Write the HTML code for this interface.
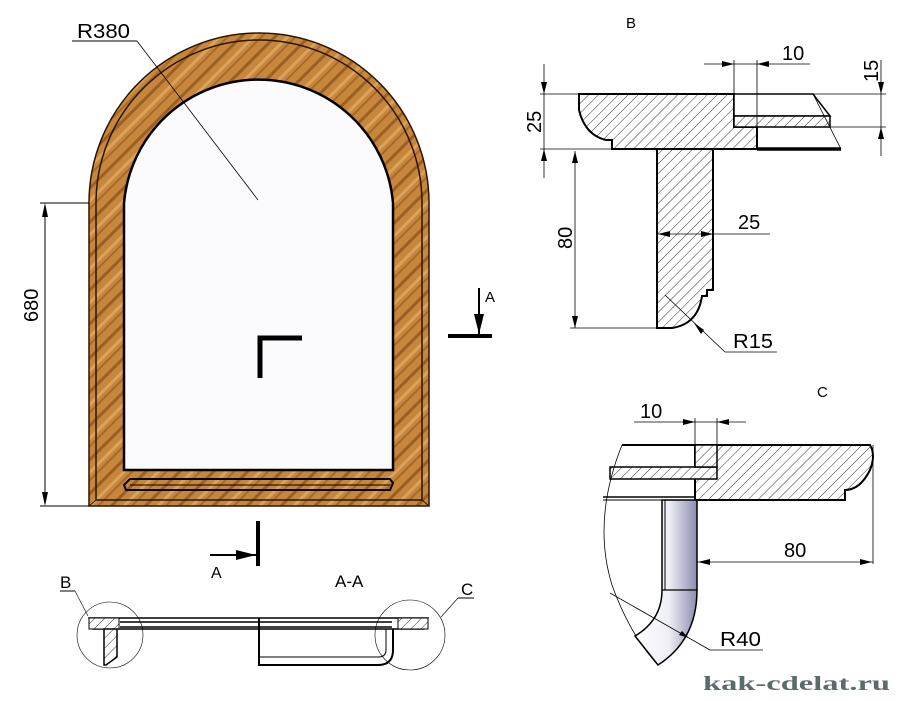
<!DOCTYPE html>
<html><head><meta charset="utf-8"><style>
html,body{margin:0;padding:0;background:#fff}
svg{display:block}
text{font-family:"Liberation Sans",sans-serif;fill:#000}
</style></head><body>
<svg width="903" height="701" viewBox="0 0 903 701" xmlns="http://www.w3.org/2000/svg">
<defs>
<pattern id="wood" width="24" height="24" patternUnits="userSpaceOnUse" patternTransform="rotate(-45)">
<rect width="24" height="24" fill="#c6863c"/>
<rect y="3" width="24" height="3" fill="#9a5f22"/>
<rect y="12" width="24" height="3" fill="#dba35a"/>
<rect y="18" width="24" height="2" fill="#a86a28"/>
</pattern>
<pattern id="hatch" width="7" height="7" patternUnits="userSpaceOnUse" patternTransform="rotate(45)">
<rect width="7" height="7" fill="#fff"/>
<line x1="0" y1="0" x2="0" y2="7" stroke="#000" stroke-width="0.8"/>
</pattern>
<linearGradient id="tube" x1="0" x2="1">
<stop offset="0" stop-color="#fff"/><stop offset="0.55" stop-color="#eeeef6"/><stop offset="1" stop-color="#8c8cae"/>
</linearGradient>
</defs>

<!-- Frame -->
<path d="M89,506 L89,203 A170,170 0 0 1 429,203 L429,506 Z" fill="url(#wood)" stroke="#2a1505" stroke-width="1.5"/>
<path d="M96,500 L96,203 A163,163 0 0 1 422,203 L422,500 Z" fill="none" stroke="#2a1505" stroke-width="1.5"/>
<path d="M124,470 L124,203 A135,135 0 0 1 393,203 L393,470 Z" fill="#fbfbfd" stroke="#000" stroke-width="2.5"/>
<path d="M130,479 L390,479 L393,483 L390,490 L126,490 L124,485 Z" fill="none" stroke="#000" stroke-width="2"/>
<line x1="130" y1="485" x2="390" y2="485" stroke="#000" stroke-width="1"/>
<line x1="89" y1="506" x2="96" y2="500" stroke="#2a1505"/><line x1="429" y1="506" x2="422" y2="500" stroke="#2a1505"/>

<!-- R380 -->
<text x="77" y="38" font-size="20" textLength="53" lengthAdjust="spacingAndGlyphs">R380</text>
<line x1="72" y1="41" x2="137" y2="41" stroke="#000" stroke-width="1"/>
<line x1="137" y1="41" x2="258" y2="200" stroke="#000" stroke-width="0.8"/>
<!-- 680 -->
<line x1="40" y1="203" x2="89" y2="203" stroke="#000"/><line x1="40" y1="506" x2="89" y2="506" stroke="#000"/>
<line x1="45" y1="210" x2="45" y2="500" stroke="#000"/>
<path d="M45,203 l-3,14 h6 Z M45,506 l-3,-14 h6 Z" fill="#000"/>
<text transform="translate(38,322) rotate(-90)" font-size="20">680</text>

<!-- corner mark and A arrows -->
<path d="M260,378 V338 H302" fill="none" stroke="#000" stroke-width="5"/>
<line x1="448" y1="336" x2="492" y2="336" stroke="#000" stroke-width="4"/>
<line x1="479" y1="288" x2="479" y2="334" stroke="#000" stroke-width="2"/>
<path d="M479,334 l-5,-20 h10 Z" fill="#000"/>
<text x="485" y="302" font-size="15">A</text>
<line x1="258" y1="521" x2="258" y2="566" stroke="#000" stroke-width="4"/>
<line x1="210" y1="555" x2="256" y2="555" stroke="#000" stroke-width="2"/>
<path d="M256,555 l-20,-5 v10 Z" fill="#000"/>
<text x="211" y="578" font-size="16">A</text>

<!-- A-A section -->
<text x="335" y="587" font-size="17">A-A</text>
<path d="M89,618 H428 L424,629 H93 Z" fill="#fff" stroke="#000" stroke-width="1.5"/>
<rect x="89" y="618" width="30" height="11" fill="url(#hatch)" stroke="#000"/>
<rect x="398" y="618" width="30" height="11" fill="url(#hatch)" stroke="#000"/>
<line x1="120" y1="622" x2="392" y2="622" stroke="#000" stroke-width="1.5"/>
<line x1="120" y1="627" x2="392" y2="627" stroke="#000" stroke-width="1.5"/>
<path d="M104,629 H117 V657 L106,665 H104 Z" fill="url(#hatch)" stroke="#000" stroke-width="1.5"/>
<path d="M259,618 V665 H378 Q393,665 393,650 V629" fill="none" stroke="#000" stroke-width="2"/>
<path d="M259,657 H378 Q386,657 386,650 V629" fill="none" stroke="#000" stroke-width="1"/>
<circle cx="110" cy="635" r="33" fill="none" stroke="#000" stroke-width="0.6"/>
<circle cx="410" cy="635" r="35" fill="none" stroke="#000" stroke-width="0.6"/>
<text x="60" y="588" font-size="17">B</text>
<line x1="60" y1="591" x2="75" y2="591" stroke="#000"/><line x1="75" y1="591" x2="88" y2="616" stroke="#000" stroke-width="0.6"/>
<text x="461" y="595" font-size="17">C</text>
<line x1="458" y1="598" x2="474" y2="598" stroke="#000"/><line x1="458" y1="598" x2="441" y2="617" stroke="#000" stroke-width="0.6"/>

<!-- Section B detail -->
<text x="626" y="28" font-size="15">B</text>
<path d="M579,94 H734 V127 H757 V149 H612 V140 H606 Q585,135 579,110 Z" fill="url(#hatch)" stroke="#000" stroke-width="2"/>
<path d="M734,94 H813 L830,116 H734 Z" fill="#fff" stroke="#000" stroke-width="1.5"/>
<rect x="734" y="116" width="96" height="11" fill="url(#hatch)" stroke="#000" stroke-width="1.5"/>
<path d="M813,94 L841,149" stroke="#000" stroke-width="0.8" fill="none"/>
<line x1="757" y1="149" x2="841" y2="149" stroke="#000" stroke-width="3.5"/>
<path d="M657,149 H713 V290 H707 V296 H702 Q698,324 672,328 H657 Z" fill="url(#hatch)" stroke="#000" stroke-width="2"/>
<!-- dims B -->
<line x1="540" y1="94" x2="579" y2="94" stroke="#000" stroke-width="0.8"/>
<line x1="540" y1="149" x2="612" y2="149" stroke="#000" stroke-width="0.8"/>
<line x1="544" y1="64" x2="544" y2="178" stroke="#000" stroke-width="0.8"/>
<path d="M544,94 l-3,-12 h6 Z M544,149 l-3,12 h6 Z" fill="#000"/>
<text transform="translate(541,133) rotate(-90)" font-size="20">25</text>
<line x1="575" y1="151" x2="575" y2="328" stroke="#000" stroke-width="0.8"/>
<path d="M575,151 l-3,12 h6 Z M575,328 l-3,-12 h6 Z" fill="#000"/>
<line x1="570" y1="328" x2="657" y2="328" stroke="#000" stroke-width="0.8"/>
<text transform="translate(572,249) rotate(-90)" font-size="20">80</text>
<line x1="734" y1="60" x2="734" y2="94" stroke="#000" stroke-width="0.8"/>
<line x1="757" y1="60" x2="757" y2="127" stroke="#000" stroke-width="0.8"/>
<line x1="704" y1="64" x2="810" y2="64" stroke="#000" stroke-width="0.8"/>
<path d="M734,64 l-12,-3 v6 Z M757,64 l12,-3 v6 Z" fill="#000"/>
<text x="782" y="60" font-size="20">10</text>
<line x1="813" y1="94" x2="886" y2="94" stroke="#000" stroke-width="0.8"/>
<line x1="830" y1="127" x2="886" y2="127" stroke="#000" stroke-width="0.8"/>
<line x1="881" y1="60" x2="881" y2="156" stroke="#000" stroke-width="0.8"/>
<path d="M881,94 l-3,-12 h6 Z M881,127 l-3,12 h6 Z" fill="#000"/>
<text transform="translate(878,82) rotate(-90)" font-size="20">15</text>
<line x1="657" y1="234" x2="770" y2="234" stroke="#000" stroke-width="0.8"/>
<path d="M658,234 l12,-3 v6 Z M713,234 l-12,-3 v6 Z" fill="#000"/>
<text x="738" y="229" font-size="20">25</text>
<line x1="665" y1="295" x2="725" y2="352" stroke="#000" stroke-width="0.8"/>
<line x1="725" y1="352" x2="777" y2="352" stroke="#000" stroke-width="0.8"/>
<path d="M694,323 l7,11 l3,-4 Z" fill="#000"/>
<text x="733" y="348" font-size="20" textLength="40" lengthAdjust="spacingAndGlyphs">R15</text>

<!-- Section C detail -->
<text x="817" y="397" font-size="15">C</text>
<path d="M695,445 H870 Q876,455 870,470 Q860,490 845,490 V500 H695 Z" fill="url(#hatch)" stroke="#000" stroke-width="2"/>
<path d="M622,445 H695" stroke="#000" stroke-width="2" fill="none"/>
<rect x="610" y="467" width="107" height="12" fill="url(#hatch)" stroke="#000" stroke-width="1.5"/>
<rect x="695" y="445" width="22" height="22" fill="url(#hatch)" stroke="#000" stroke-width="1.5"/>
<line x1="603" y1="497" x2="695" y2="497" stroke="#000" stroke-width="1.5"/>
<line x1="603" y1="500" x2="695" y2="500" stroke="#000" stroke-width="1"/>
<path d="M622,445 Q592,520 612,585 Q630,635 658,665" fill="none" stroke="#000" stroke-width="0.8"/>
<path d="M662,500 H697 V590 Q697,640 658,665 L635,636 Q662,620 662,590 Z" fill="url(#tube)" stroke="#000" stroke-width="1.5"/>
<line x1="662" y1="590" x2="697" y2="590" stroke="#000" stroke-width="1.2"/>
<line x1="665" y1="500" x2="665" y2="590" stroke="#000" stroke-width="1"/>
<line x1="610" y1="593" x2="710" y2="650" stroke="#000" stroke-width="0.8"/>
<line x1="710" y1="650" x2="763" y2="650" stroke="#000" stroke-width="0.8"/>
<path d="M689,638 l-10,-3 l3,-4 Z" fill="#000"/>
<text x="720" y="646" font-size="20" textLength="41" lengthAdjust="spacingAndGlyphs">R40</text>
<line x1="695" y1="418" x2="695" y2="445" stroke="#000" stroke-width="0.8"/>
<line x1="717" y1="418" x2="717" y2="445" stroke="#000" stroke-width="0.8"/>
<line x1="634" y1="422" x2="746" y2="422" stroke="#000" stroke-width="0.8"/>
<path d="M695,422 l-12,-3 v6 Z M717,422 l12,-3 v6 Z" fill="#000"/>
<text x="640" y="418" font-size="20">10</text>
<line x1="873" y1="445" x2="873" y2="564" stroke="#000" stroke-width="0.8"/>
<line x1="697" y1="562" x2="873" y2="562" stroke="#000" stroke-width="0.8"/>
<path d="M698,562 l12,-3 v6 Z M872,562 l-12,-3 v6 Z" fill="#000"/>
<text x="784" y="557" font-size="20">80</text>

<text x="703" y="690" font-size="20" font-weight="bold" textLength="187" lengthAdjust="spacingAndGlyphs" style="font-family:'Liberation Serif',serif;fill:#5b6b6b">kak-cdelat.ru</text>
</svg>
</body></html>
